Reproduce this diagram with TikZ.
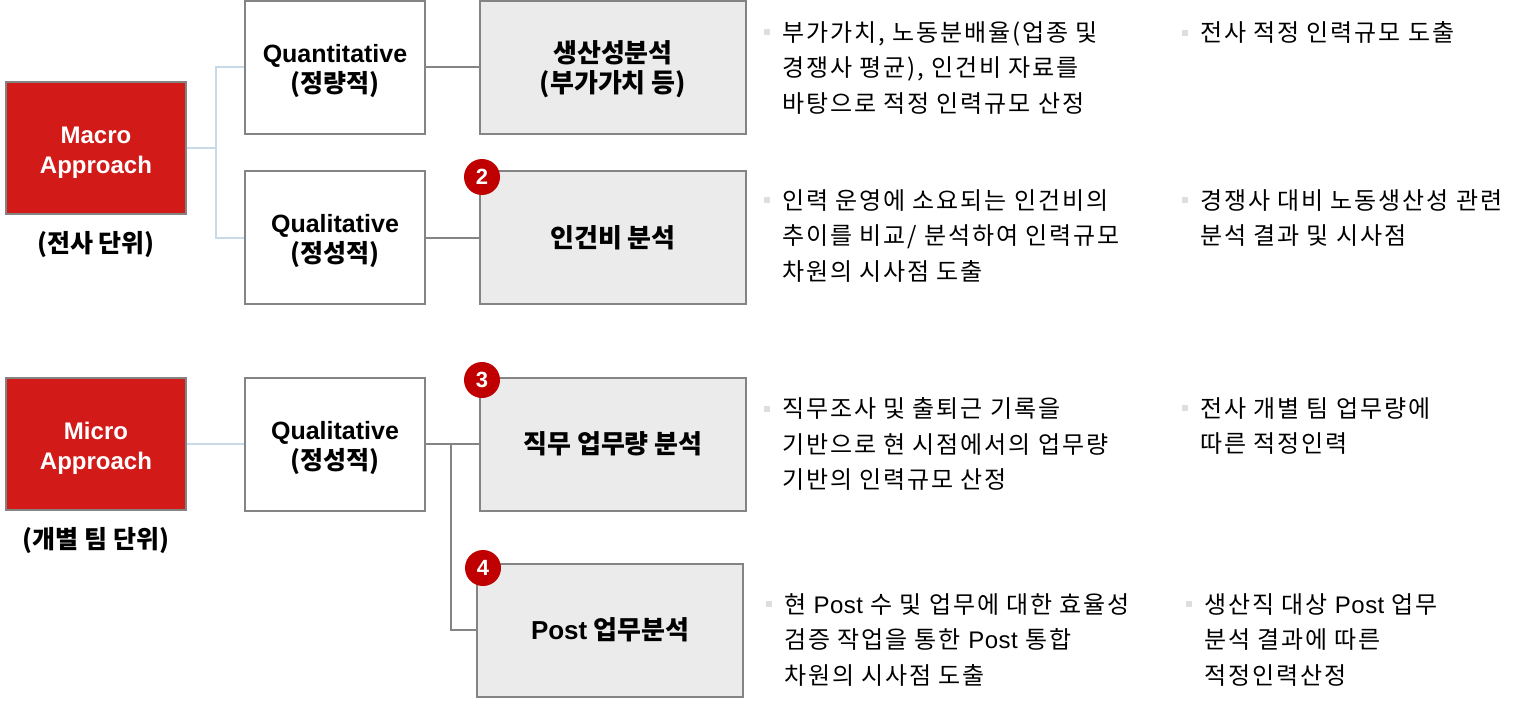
\documentclass[tikz,border=0pt]{standalone}
\usepackage{fontspec}
\setmainfont{Noto Sans CJK KR}
\newfontfamily\lat{Liberation Sans}
\newfontfamily\krdesc{Noto Sans CJK KR}[LetterSpace=8]
\newfontfamily\latdesc{Liberation Sans}[LetterSpace=2]
\usepackage{tikz}
\usetikzlibrary{positioning}

\definecolor{macrored}{RGB}{210,26,24}
\definecolor{numred}{RGB}{192,0,0}
\definecolor{boxgray}{RGB}{235,235,235}
\definecolor{edgegray}{RGB}{132,132,132}
\definecolor{linkblue}{RGB}{200,218,232}
\definecolor{bulletgray}{RGB}{222,222,222}

\newcommand{\bul}{\llap{\textcolor{bulletgray}{\rule[6pt]{6pt}{6pt}}\hspace{12pt}}}
\newcommand{\up}{\rule{0pt}{26pt}}

\begin{document}
\begin{tikzpicture}[
		x=1pt, y=-1pt,
		redbox/.style={draw=edgegray, line width=2pt, fill=macrored, text=white, minimum width=180pt, minimum height=132pt, align=center, font=\lat\bfseries\fontsize{24}{30}\selectfont},
		unit/.style={font=\bfseries\fontsize{25}{28}\selectfont, inner sep=0pt},
		kind/.style={draw=edgegray, line width=2pt, fill=white, minimum width=180pt, minimum height=133pt, align=center, font=\bfseries\fontsize{25}{30}\selectfont},
		task/.style={draw=edgegray, line width=2pt, fill=boxgray, minimum width=266pt, minimum height=133pt, align=center, font=\bfseries\fontsize{26}{30}\selectfont},
		num/.style={circle, fill=numred, text=white, minimum size=36pt, inner sep=0pt, font=\lat\bfseries\fontsize{22}{22}\selectfont},
		desc/.style={align=left, inner sep=0pt, font=\krdesc\fontsize{24}{35.5}\selectfont},
		bluelink/.style={draw=linkblue, line width=2pt},
		graylink/.style={draw=edgegray, line width=2pt}
	]
	\useasboundingbox (0,0) rectangle (1534,706);

	% Macro approach
	\node[redbox] (macro) at (96,148) {\up Macro\\Approach};
	\node[unit, below=16pt of macro] (macrounit) {(전사 단위)};
	\node[kind] (quan) at (335,67.5) {\up{\lat Quantitative}\\(정량적)};
	\node[kind, below=35pt of quan] (quala) {\up{\lat Qualitative}\\(정성적)};
	\node[task, right=53pt of quan] (prod) {\up 생산성분석\\(부가가치 등)};
	\node[task, right=53pt of quala] (labor) {인건비 분석};
	\node[num] (n2) at (482,177) {2};

	% Micro approach
	\node[redbox] (micro) at (96,444) {\up Micro\\Approach};
	\node[unit, below=16pt of micro] (microunit) {(개별 팀 단위)};
	\node[kind] (qualb) at (335,444) {\up{\lat Qualitative}\\(정성적)};
	\node[task, right=53pt of qualb] (work) {직무 업무량 분석};
	\node[task] (post) at (610,630) {{\lat Post} 업무분석};
	\node[num] (n3) at (482,380) {3};
	\node[num] (n4) at (483,568) {4};

	% Links
	\coordinate (mfork) at (216,148);
	\coordinate (wfork) at (451,444);
	\draw[bluelink] (macro.east) -- (mfork) |- (quan.west);
	\draw[bluelink] (mfork) |- (quala.west);
	\draw[bluelink] (micro) -- (qualb);
	\draw[graylink] (quan) -- (prod);
	\draw[graylink] (quala) -- (labor);
	\draw[graylink] (qualb) -- (work);
	\draw[graylink] (wfork) |- (post.west);

	% Descriptions
	\node[desc, anchor=west] (d1a) at (782,68) {\bul 부가가치, 노동분배율(업종 및\\경쟁사 평균), 인건비 자료를\\바탕으로 적정 인력규모 산정};
	\node[desc, anchor=north west] (d1b) at ([xshift=418pt]d1a.north west) {\bul 전사 적정 인력규모 도출};
	\node[desc, anchor=west] (d2a) at (782,236) {\bul 인력 운영에 소요되는 인건비의\\추이를 비교/ 분석하여 인력규모\\차원의 시사점 도출};
	\node[desc, anchor=north west] (d2b) at ([xshift=418pt]d2a.north west) {\bul 경쟁사 대비 노동생산성 관련\\분석 결과 및 시사점};
	\node[desc, anchor=west] (d3a) at (782,444) {\bul 직무조사 및 출퇴근 기록을\\기반으로 현 시점에서의 업무량\\기반의 인력규모 산정};
	\node[desc, anchor=north west] (d3b) at ([xshift=418pt]d3a.north west) {\bul 전사 개별 팀 업무량에\\따른 적정인력};
	\node[desc, anchor=west] (d4a) at (784,640) {\bul 현 {\latdesc Post} 수 및 업무에 대한 효율성\\검증 작업을 통한 {\latdesc Post} 통합\\차원의 시사점 도출};
	\node[desc, anchor=north west] (d4b) at ([xshift=420pt]d4a.north west) {\bul 생산직 대상 {\latdesc Post} 업무\\분석 결과에 따른\\적정인력산정};
\end{tikzpicture}
\end{document}
